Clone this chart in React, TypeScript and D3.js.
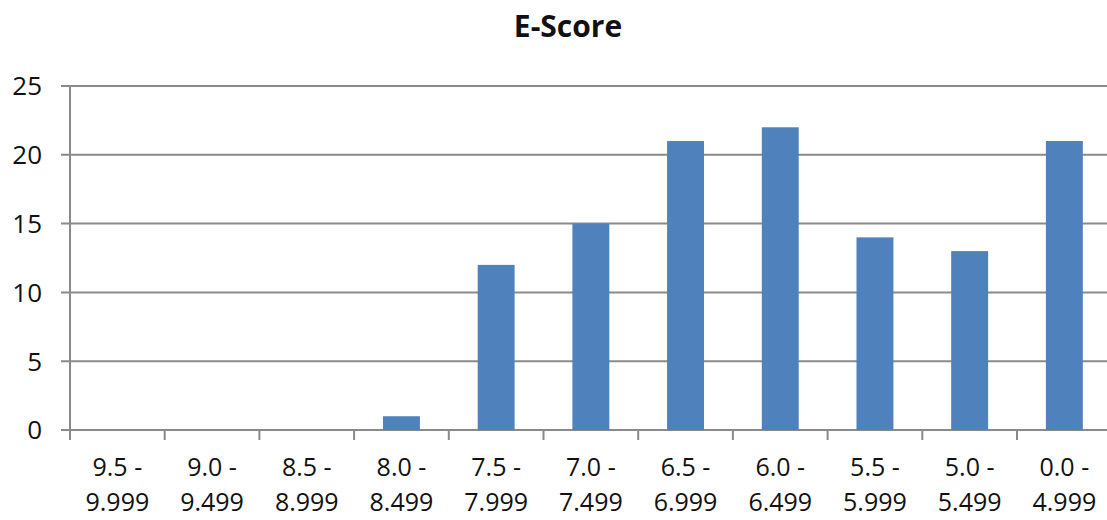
import * as React from 'react';
import {useEffect, useRef} from 'react';
import * as d3 from 'd3';

const categories = [
  ['9.5 -', '9.999'],
  ['9.0 -', '9.499'],
  ['8.5 -', '8.999'],
  ['8.0 -', '8.499'],
  ['7.5 -', '7.999'],
  ['7.0 -', '7.499'],
  ['6.5 -', '6.999'],
  ['6.0 -', '6.499'],
  ['5.5 -', '5.999'],
  ['5.0 -', '5.499'],
  ['0.0 -', '4.999'],
];
const counts = [0, 0, 0, 1, 12, 15, 21, 22, 14, 13, 21];
const yTicks = [0, 5, 10, 15, 20, 25];
const title = 'E-Score';

const width = 1107;
const height = 520;
const font = '"Open Sans", "Liberation Sans", sans-serif';

const BarChart = () => {
  const ref = useRef<SVGSVGElement>(null);

  useEffect(() => {
    const svg = d3.select(ref.current);
    svg.selectAll('*').remove();

    const left = 70;
    const step = 94.7;
    const x = d3.scaleBand<number>()
      .domain(d3.range(categories.length))
      .range([left, left + step * categories.length])
      .paddingInner(0.61)
      .paddingOuter(0.305);

    const y = d3.scaleLinear().domain([0, 25]).range([430, 86]);
    const grid = '#8a8a8a';
    const ink = '#111';

    svg.append('text')
      .attr('x', 568)
      .attr('y', 37)
      .attr('text-anchor', 'middle')
      .style('font', `bold 30px ${font}`)
      .attr('fill', ink)
      .text(title);

    // horizontal gridlines (with small outward ticks)
    svg.append('g')
      .selectAll('line')
      .data(yTicks)
      .join('line')
      .attr('x1', left - 9)
      .attr('x2', width)
      .attr('y1', d => y(d))
      .attr('y2', d => y(d))
      .attr('stroke', grid)
      .attr('stroke-width', 2);

    svg.append('g')
      .selectAll('text')
      .data(yTicks)
      .join('text')
      .attr('x', 42)
      .attr('y', d => y(d))
      .attr('dy', '0.36em')
      .attr('text-anchor', 'end')
      .style('font', `26px ${font}`)
      .attr('fill', ink)
      .text(d => d);

    svg.append('line')
      .attr('x1', left).attr('x2', left)
      .attr('y1', y(25)).attr('y2', y(0))
      .attr('stroke', grid)
      .attr('stroke-width', 2);

    // x-axis tick marks between categories
    svg.append('g')
      .selectAll('line')
      .data(d3.range(categories.length + 1))
      .join('line')
      .attr('x1', d => left + d * step)
      .attr('x2', d => left + d * step)
      .attr('y1', y(0))
      .attr('y2', y(0) + 10)
      .attr('stroke', grid)
      .attr('stroke-width', 2);

    svg.append('g')
      .selectAll('rect')
      .data(counts)
      .join('rect')
      .attr('x', (_, i) => x(i)!)
      .attr('width', x.bandwidth())
      .attr('y', d => y(d))
      .attr('height', d => y(0) - y(d))
      .attr('fill', '#4f81bd');

    const labels = svg.append('g')
      .selectAll('text')
      .data(categories)
      .join('text')
      .attr('text-anchor', 'middle')
      .style('font', `25px ${font}`)
      .attr('fill', ink);

    labels.append('tspan')
      .attr('x', (_, i) => x(i)! + x.bandwidth() / 2)
      .attr('y', 476)
      .text(d => d[0]);

    labels.append('tspan')
      .attr('x', (_, i) => x(i)! + x.bandwidth() / 2)
      .attr('y', 511)
      .text(d => d[1]);
  }, []);

  return (
    <svg ref={ref} width={width} height={height}
      style={{position: 'absolute', left: 0, top: 0, background: '#fff'}}/>
  );
};

export default function App() {
  return <BarChart/>;
}
